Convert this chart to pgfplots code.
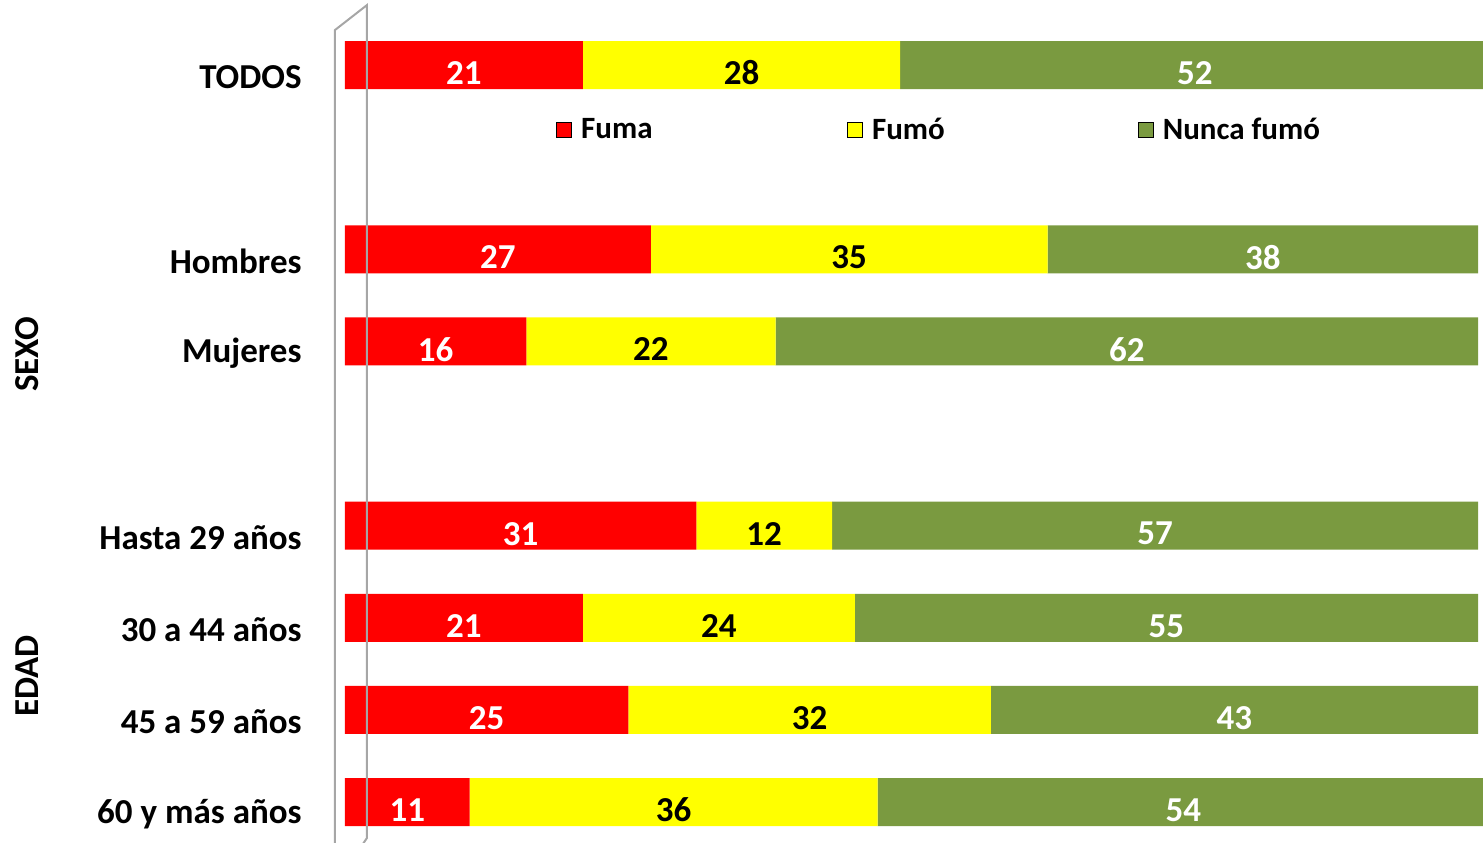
\documentclass[border=0pt]{standalone}
\usepackage{pgfplots}
\pgfplotsset{compat=1.18}
\usepackage{fontspec}
\setmainfont{Carlito}
\definecolor{cRed}{HTML}{FF0000}
\definecolor{cYel}{HTML}{FFFF00}
\definecolor{cGrn}{HTML}{7A9A40}
\definecolor{cWall}{HTML}{A6A6A6}
\newcommand{\lblfont}{\fontsize{17.5}{21}\selectfont\bfseries}
\newcommand{\legfont}{\fontsize{15.5}{19}\selectfont\bfseries}
\begin{document}
\begin{tikzpicture}
\useasboundingbox (-172.5pt,0pt) rectangle (569pt,421pt);
\begin{axis}[
  at={(0pt,0pt)}, anchor=south west,
  scale only axis, width=572.2pt, height=421pt,
  xmin=0, xmax=101, ymin=-0.434, ymax=8.706,
  xbar stacked, bar width=24pt,
  clip mode=individual,
  axis line style={draw=none}, tick style={draw=none},
  xtick=\empty,
  ytick={0,1,2,3,5,6,8},
  yticklabels={60 y más años,45 a 59 años,30 a 44 años,Hasta 29 años,Mujeres,Hombres,TODOS},
  yticklabel style={anchor=east, inner sep=0pt, xshift=-21.5pt, yshift=-6pt, font=\lblfont},
  nodes near coords,
  nodes near coords={\pgfmathprintnumber[assume math mode=true]{\pgfplotspointmeta}},
  every node near coord/.append style={font=\lblfont, yshift=-4pt},
  legend columns=3,
  legend style={draw=none, fill=none, at={(0.1844,0.8456)}, anchor=west, inner sep=0pt,
    font=\legfont,
    /tikz/every even column/.append style={column sep=7.5pt}},
  legend image code/.code={\fill[#1] (0pt,-3.75pt) rectangle (7.5pt,3.75pt);},
]
\draw[cWall, line width=1pt] (axis cs:-0.883,-0.6) -- (axis cs:-0.883,8.38) -- (axis cs:1.942,8.651) -- (axis cs:1.942,-0.39) -- (axis cs:1.5,-0.47);
\addlegendimage{fill=cRed}
\addlegendentry{\makebox[126pt][l]{\hspace{2.5pt}Fuma}}
\addlegendimage{fill=cYel}
\addlegendentry{\makebox[126pt][l]{\hspace{2.5pt}Fumó}}
\addlegendimage{fill=cGrn}
\addlegendentry{\hspace{2.5pt}Nunca fumó}
\addplot[forget plot, draw=none, fill=cRed,
  every node near coord/.append style={text=white}]
  coordinates {(21,8) (27,6) (16,5) (31,3) (21,2) (25,1) (11,0)};
\addplot[forget plot, draw=none, fill=cYel,
  every node near coord/.append style={text=black}]
  coordinates {(28,8) (35,6) (22,5) (12,3) (24,2) (32,1) (36,0)};
\addplot[forget plot, draw=none, fill=cGrn,
  every node near coord/.append style={text=white}]
  coordinates {(52,8) (38,6) (62,5) (57,3) (55,2) (43,1) (54,0)};
\node[rotate=90, font=\lblfont] at (axis cs:-28.07,4.862) {SEXO};
\node[rotate=90, font=\lblfont] at (axis cs:-28.07,1.366) {EDAD};
\end{axis}
\end{tikzpicture}
\end{document}
